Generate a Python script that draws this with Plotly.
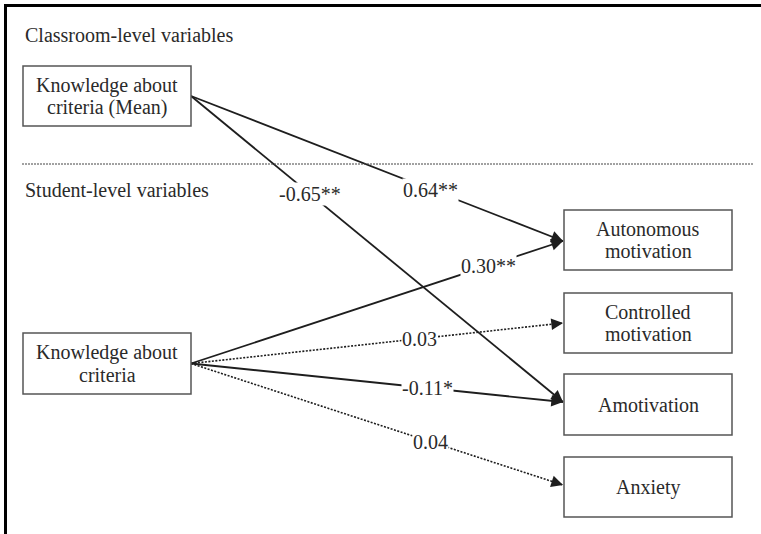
import plotly.graph_objects as go

# ---------------- data ----------------
source_nodes = ["Knowledge about criteria (Mean)", "Knowledge about criteria"]
outcome_nodes = ["Autonomous motivation", "Controlled motivation", "Amotivation", "Anxiety"]

edge_from = ["Knowledge about criteria (Mean)", "Knowledge about criteria (Mean)",
             "Knowledge about criteria", "Knowledge about criteria",
             "Knowledge about criteria", "Knowledge about criteria"]
edge_to = ["Amotivation", "Autonomous motivation",
           "Autonomous motivation", "Controlled motivation",
           "Amotivation", "Anxiety"]
edge_coef = ["-0.65**", "0.64**", "0.30**", "0.03", "-0.11*", "0.04"]
edge_significant = [True, True, True, False, True, False]

section_labels = ["Classroom-level variables", "Student-level variables"]

# ---------------- layout (positions / styles) ----------------
W, H = 761, 534
node_lines = {
    "Knowledge about criteria (Mean)": ["Knowledge about", "criteria (Mean)"],
    "Knowledge about criteria": ["Knowledge about", "criteria"],
    "Autonomous motivation": ["Autonomous", "motivation"],
    "Controlled motivation": ["Controlled", "motivation"],
    "Amotivation": ["Amotivation"],
    "Anxiety": ["Anxiety"],
}
node_box = {  # x0, y0, x1, y1 in pixel-like coordinates
    "Knowledge about criteria (Mean)": (23, 66, 191, 126),
    "Knowledge about criteria": (23, 333, 191, 394),
    "Autonomous motivation": (564, 210, 732, 270),
    "Controlled motivation": (564, 293, 732, 353),
    "Amotivation": (564, 374, 732, 435),
    "Anxiety": (564, 457, 732, 517),
}
arrow_tip_y = {"Autonomous motivation": 241, "Controlled motivation": 323,
               "Amotivation": 402, "Anxiety": 485}
label_t = [0.32, 0.645, 0.80, 0.613, 0.637, 0.645]
section_pos = [(23, 35), (23, 190)]

FONT = "Liberation Serif"
TXT = "#2a2a2a"
LINE = "#1e1e1e"
FS = 20

fig = go.Figure()
shapes = []
annotations = []

# outer frame (left and top)
shapes.append(dict(type="line", x0=6, y0=5.5, x1=W + 5, y1=5.5,
                   line=dict(color="#000", width=3)))
shapes.append(dict(type="line", x0=5.5, y0=4, x1=5.5, y1=H + 5,
                   line=dict(color="#000", width=3)))

# separator
shapes.append(dict(type="line", x0=22, y0=164, x1=753, y1=164,
                   line=dict(color="#444", width=1, dash="2px,1px")))

# section labels
for lab, (sx, sy) in zip(section_labels, section_pos):
    annotations.append(dict(x=sx, y=sy, text=lab, showarrow=False, xanchor="left",
                            yanchor="middle", font=dict(family=FONT, size=FS, color=TXT)))

# boxes + text
for name, (x0, y0, x1, y1) in node_box.items():
    shapes.append(dict(type="rect", x0=x0, y0=y0, x1=x1, y1=y1,
                       line=dict(color="#555", width=1.5), fillcolor="white", layer="above"))
    lines = node_lines[name]
    cy = (y0 + y1) / 2
    n = len(lines)
    for i, ln in enumerate(lines):
        yy = cy + (i - (n - 1) / 2) * 22
        annotations.append(dict(x=(x0 + x1) / 2, y=yy, text=ln, showarrow=False,
                                xanchor="center", yanchor="middle",
                                font=dict(family=FONT, size=FS, color=TXT)))

# edges
for src, dst, coef, sig, t in zip(edge_from, edge_to, edge_coef, edge_significant, label_t):
    bx0, by0, bx1, by1 = node_box[src]
    sx, sy = bx1, (by0 + by1) / 2
    tx, ty = node_box[dst][0] - 1, arrow_tip_y[dst]
    fig.add_trace(go.Scatter(x=[sx, tx], y=[sy, ty], mode="lines", hoverinfo="skip",
                             line=dict(color=LINE, width=1.8 if sig else 1.6,
                                       dash="solid" if sig else "2px,1.5px"),
                             showlegend=False))
    # arrowhead
    L = ((tx - sx) ** 2 + (ty - sy) ** 2) ** 0.5
    ux, uy = (tx - sx) / L, (ty - sy) / L
    annotations.append(dict(x=tx, y=ty, ax=tx - ux * 8, ay=ty - uy * 8,
                            xref="x", yref="y", axref="x", ayref="y",
                            showarrow=True, arrowhead=2, arrowsize=1.3, arrowwidth=1.8,
                            arrowcolor=LINE, standoff=0, text=""))
    # coefficient label
    lx, ly = sx + (tx - sx) * t, sy + (ty - sy) * t
    annotations.append(dict(x=lx, y=ly, text=coef, showarrow=False, xanchor="center",
                            yanchor="middle", bgcolor="white", borderpad=0,
                            font=dict(family=FONT, size=FS, color=TXT)))

fig.update_layout(
    width=W, height=H,
    margin=dict(l=0, r=0, t=0, b=0),
    paper_bgcolor="white", plot_bgcolor="white",
    font=dict(family=FONT),
    xaxis=dict(range=[0, W], visible=False, fixedrange=True),
    yaxis=dict(range=[H, 0], visible=False, fixedrange=True),
    shapes=shapes, annotations=annotations,
    showlegend=False,
)

fig.write_html("out.html", post_script="document.body.style.margin='0';document.body.style.overflow='hidden';",
               config={"displayModeBar": False})
